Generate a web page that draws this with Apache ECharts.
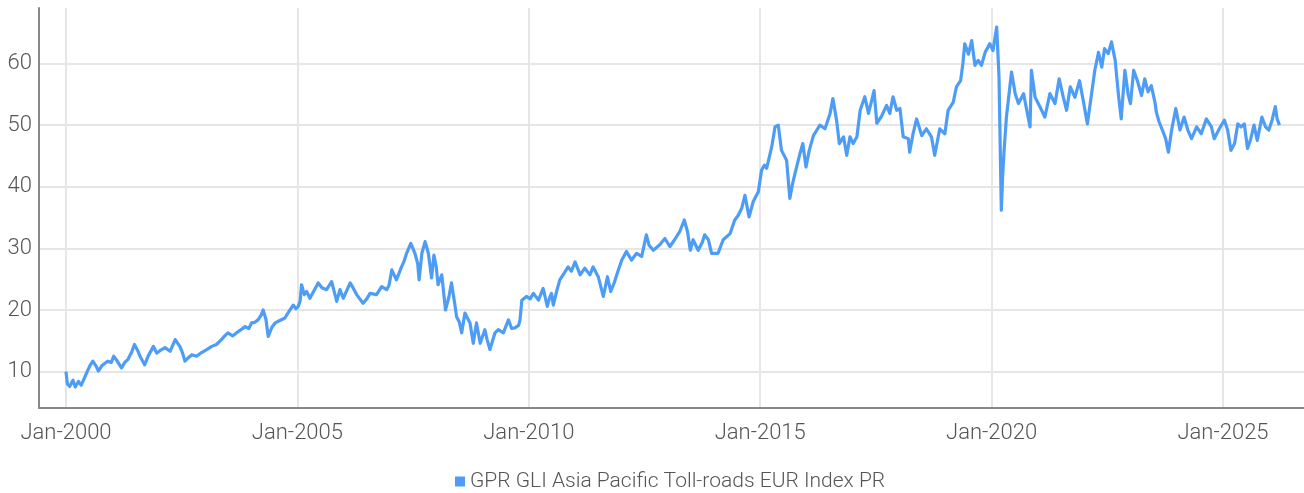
<!DOCTYPE html>
<html>
<head>
<meta charset="utf-8">
<script src="https://cdn.jsdelivr.net/npm/echarts@6/dist/echarts.min.js"></script>
<style>
html,body{margin:0;padding:0;background:#fff;}
#chart{width:1304px;height:493px;}
</style>
</head>
<body>
<div id="chart"></div>
<script>
// Time in decimal years
const years = [
2000.00,2000.03,2000.08,2000.15,2000.20,2000.27,2000.33,2000.40,2000.47,2000.52,2000.58,2000.65,2000.70,2000.78,2000.90,2000.98,
2001.03,2001.10,2001.20,2001.27,2001.34,2001.42,2001.48,2001.55,2001.60,2001.70,2001.78,2001.89,2001.96,
2002.05,2002.14,2002.25,2002.36,2002.46,2002.52,2002.57,2002.65,2002.72,2002.82,2002.93,
2003.05,2003.15,2003.25,2003.36,2003.43,2003.50,2003.60,2003.72,2003.80,2003.87,2003.95,
2004.01,2004.08,2004.15,2004.22,2004.26,2004.32,2004.37,2004.45,2004.52,2004.62,2004.73,2004.82,2004.91,2004.97,
2005.02,2005.06,2005.09,2005.15,2005.20,2005.27,2005.35,2005.45,2005.53,2005.63,2005.74,2005.85,2005.92,2005.99,
2006.07,2006.14,2006.21,2006.28,2006.42,2006.50,2006.57,2006.71,2006.82,2006.93,2006.98,
2007.04,2007.09,2007.14,2007.25,2007.30,2007.36,2007.45,2007.54,2007.60,2007.63,2007.69,2007.76,2007.83,2007.90,2007.95,
2008.00,2008.04,2008.12,2008.20,2008.27,2008.33,2008.40,2008.44,2008.50,2008.55,2008.62,2008.73,2008.80,2008.87,2008.95,
2009.05,2009.10,2009.16,2009.27,2009.34,2009.45,2009.56,2009.63,2009.70,2009.78,2009.81,2009.85,2009.95,
2010.03,2010.10,2010.21,2010.31,2010.40,2010.45,2010.49,2010.53,2010.60,2010.67,2010.75,2010.85,2010.92,
2011.00,2011.11,2011.21,2011.32,2011.39,2011.50,2011.61,2011.70,2011.77,2011.85,2011.90,
2012.01,2012.11,2012.22,2012.33,2012.44,2012.54,2012.60,2012.69,2012.83,2012.94,
2013.05,2013.15,2013.26,2013.36,2013.43,2013.49,2013.55,2013.66,2013.75,2013.80,2013.88,2013.95,
2014.09,2014.20,2014.35,2014.45,2014.52,2014.60,2014.67,2014.76,2014.85,2014.96,
2015.03,2015.09,2015.14,2015.25,2015.32,2015.39,2015.46,2015.57,2015.64,2015.70,2015.75,2015.86,2015.92,2015.99,
2016.06,2016.15,2016.29,2016.40,2016.51,2016.57,2016.65,2016.71,2016.80,2016.87,2016.94,
2017.01,2017.09,2017.16,2017.26,2017.34,2017.41,2017.46,2017.52,2017.62,2017.73,2017.80,2017.87,2017.95,
2018.02,2018.09,2018.20,2018.23,2018.30,2018.38,2018.49,2018.59,2018.70,2018.77,2018.88,2018.99,
2019.06,2019.17,2019.24,2019.33,2019.38,2019.42,2019.50,2019.57,2019.64,2019.71,2019.78,2019.86,2019.96,
2020.03,2020.11,2020.16,2020.21,2020.24,2020.27,2020.32,2020.43,2020.51,2020.58,2020.69,2020.76,2020.83,2020.86,2020.94,
2021.05,2021.15,2021.26,2021.37,2021.46,2021.55,2021.62,2021.70,2021.80,2021.90,2021.98,
2022.07,2022.16,2022.23,2022.31,2022.38,2022.44,2022.52,2022.59,2022.67,2022.74,2022.80,2022.88,2022.95,
2023.00,2023.07,2023.15,2023.24,2023.31,2023.38,2023.45,2023.53,2023.56,2023.62,2023.69,2023.76,2023.82,2023.89,2023.98,
2024.07,2024.16,2024.24,2024.32,2024.43,2024.53,2024.64,2024.75,2024.81,2024.92,
2025.03,2025.10,2025.17,2025.25,2025.32,2025.39,2025.46,2025.53,2025.60,2025.67,2025.74,2025.84,2025.92,2025.99,
2026.06,2026.13,2026.17,2026.22
];
const values = [
10.0,8.0,7.6,8.6,7.5,8.4,7.8,9.0,10.2,11.0,11.7,10.9,10.1,11.0,11.7,11.5,
12.5,11.8,10.6,11.5,12.0,13.2,14.4,13.4,12.5,11.1,12.6,14.1,13.0,
13.5,13.9,13.3,15.2,14.1,13.0,11.7,12.3,12.75,12.5,13.1,
13.6,14.1,14.4,15.2,15.8,16.3,15.8,16.5,16.9,17.3,17.0,
17.9,18.0,18.4,19.2,20.0,18.5,15.7,17.2,17.9,18.3,18.7,19.8,20.8,20.2,
20.6,21.5,24.1,22.5,23.0,21.9,23.0,24.4,23.6,23.3,24.6,21.4,23.3,21.9,
23.2,24.4,23.5,22.5,21.1,21.8,22.7,22.5,23.8,23.3,24.0,
26.5,25.7,24.9,27.0,27.8,29.2,30.8,29.2,27.5,24.9,29.2,31.1,29.2,25.2,28.9,
27.0,24.1,25.7,20.0,22.0,24.4,21.0,18.9,18.0,16.3,19.5,17.9,14.6,17.9,14.6,
16.8,15.2,13.6,16.3,16.8,16.3,18.4,17.0,17.1,17.5,18.4,21.6,22.2,
21.8,22.7,21.6,23.5,20.6,22.0,22.7,20.8,23.0,24.9,25.8,27.0,26.3,
27.8,25.7,26.8,25.7,27.0,25.4,22.2,25.4,23.0,24.5,25.7,
28.1,29.5,28.1,29.2,28.7,32.2,30.5,29.7,30.6,31.6,
30.3,31.4,32.7,34.6,32.7,29.7,31.4,29.7,31.0,32.2,31.4,29.2,
29.2,31.4,32.4,34.6,35.3,36.5,38.6,35.1,37.6,39.2,
42.7,43.5,43.0,46.5,49.7,50.0,45.9,44.3,38.1,40.5,42.1,45.4,47.0,43.2,
45.9,48.3,50.0,49.4,51.9,54.3,50.8,47.0,48.1,45.1,48.1,
47.0,48.1,52.4,54.6,51.9,54.0,55.6,50.3,51.4,53.2,51.9,54.6,52.4,
52.7,48.1,47.8,45.6,48.5,51.0,48.3,49.4,48.1,45.1,49.4,48.6,
52.4,53.7,56.2,57.2,60.0,63.2,61.5,63.7,59.7,60.5,59.7,61.8,63.2,
62.1,65.9,57.8,36.2,42.0,45.9,51.3,58.6,55.1,53.5,55.1,52.4,49.7,58.9,54.5,
52.9,51.3,55.1,53.5,57.5,54.5,52.4,56.2,54.5,57.2,54.0,
50.2,55.1,58.9,61.8,59.4,62.4,61.6,63.5,60.5,55.0,51.0,58.9,55.0,
53.5,58.9,57.2,54.8,57.5,55.4,56.4,53.7,52.1,50.5,49.2,47.8,45.6,49.2,52.7,
49.2,51.3,49.2,47.8,49.7,48.6,51.0,49.7,47.8,49.4,
50.8,49.2,45.9,47.0,50.2,49.7,50.2,46.2,47.8,50.0,47.5,51.3,49.7,49.2,
50.8,53.0,51.0,50.0
];
const xTickYears = [2000, 2005, 2010, 2015, 2020, 2025];
const yTicks = [10, 20, 30, 40, 50, 60];
const seriesName = 'GPR GLI Asia Pacific Toll-roads EUR Index PR';

const data = years.map((y, i) => [y, values[i]]);
const FONT = 'Roboto, "Noto Sans", sans-serif';

const chart = echarts.init(document.getElementById('chart'), null, {renderer: 'canvas'});
chart.setOption({
  animation: false,
  backgroundColor: '#ffffff',
  grid: {left: 39, right: 0, top: 8, bottom: 85, containLabel: false},
  legend: {
    show: true,
    left: 450,
    top: 466,
    icon: 'rect',
    itemWidth: 10,
    itemHeight: 10,
    itemGap: 6,
    textStyle: {fontFamily: FONT, fontSize: 21, fontWeight: 300, color: '#555555'},
    data: [seriesName]
  },
  xAxis: {
    type: 'value',
    min: 1999.417,
    max: 2026.75,
    axisLine: {show: true, lineStyle: {color: '#888888', width: 2}},
    axisTick: {show: false, customValues: xTickYears},
    axisLabel: {
      customValues: xTickYears,
      formatter: v => 'Jan-' + Math.round(v),
      fontFamily: FONT, fontSize: 22, fontWeight: 300, color: '#555555', margin: 14
    },
    splitLine: {show: true, lineStyle: {color: '#e6e6e6', width: 2}}
  },
  yAxis: {
    type: 'value',
    min: 4.1,
    max: 69,
    axisLine: {show: true, lineStyle: {color: '#888888', width: 2}},
    axisTick: {show: false, customValues: yTicks},
    axisLabel: {
      customValues: yTicks,
      fontFamily: FONT, fontSize: 22, fontWeight: 300, color: '#555555', margin: 7
    },
    splitLine: {show: true, lineStyle: {color: '#e6e6e6', width: 2}}
  },
  series: [{
    name: seriesName,
    type: 'line',
    data: data,
    showSymbol: false,
    symbol: 'none',
    color: '#4d9cf6',
    lineStyle: {color: '#4d9cf6', width: 3.2, join: 'round'},
    z: 3
  }]
});
</script>
</body>
</html>
